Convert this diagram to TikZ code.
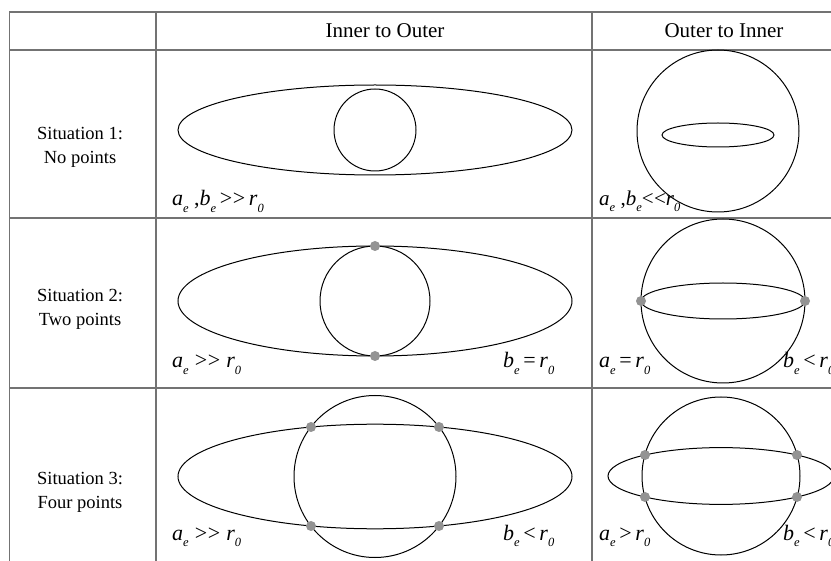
\documentclass[tikz,border=0pt]{standalone}
\usepackage{fontspec}
\setmainfont{Liberation Serif}
\newcommand\ssub[2]{\textit{#1}\raisebox{-0.6ex}{\fontsize{12.5}{12.5}\selectfont\textit{#2}}}
\newcommand\ggt{>\kern0.5pt>}
\newcommand\llt{<\kern0.5pt<}
\tikzset{
  grid/.style={draw=gray!90!black, line width=1.4pt},
  shp/.style={draw=black, line width=1pt},
  pt/.style={circle, fill=gray!85, inner sep=0pt, minimum size=10pt},
  lab/.style={anchor=base west, inner sep=0pt, font=\fontsize{22}{24}\selectfont},
  hdr/.style={inner sep=0pt, font=\fontsize{21}{24}\selectfont},
  sit/.style={inner sep=0pt, font=\fontsize{18.5}{22}\selectfont},
}
\begin{document}
\begin{tikzpicture}[x=1pt,y=-1pt]
\useasboundingbox (0,0) rectangle (831,561);
\begin{scope}
\clip (0,0) rectangle (831,561);
% table
\draw[grid] (9.5,561) -- (9.5,12) -- (831,12);
\draw[grid] (9.5,50) -- (831,50);
\draw[grid] (9.5,218) -- (831,218);
\draw[grid] (9.5,388) -- (831,388);
\draw[grid] (156,12) -- (156,561);
\draw[grid] (592,12) -- (592,561);
% headers
\node[hdr] (h1) at (385,31) {Inner to Outer};
\node[hdr] (h2) at (724,31) {Outer to Inner};
\node[sit] (s1a) at (80,134) {Situation 1:};
\node[sit] (s1b) at (80,159) {No points};
\node[sit] (s2a) at (80,296) {Situation 2:};
\node[sit] (s2b) at (80,321) {Two points};
\node[sit] (s3a) at (80,479) {Situation 3:};
\node[sit] (s3b) at (80,504) {Four points};
% row 1
\draw[shp] (375,130) ellipse [x radius=197, y radius=45];
\draw[shp] (375,130) circle [radius=41];
\draw[shp] (718,131) circle [radius=81];
\draw[shp] (718,135) ellipse [x radius=56, y radius=12];
\node[lab] (l1) at (172,206) {\ssub{a}{e} ,\ssub{b}{e}\,\ggt\,\ssub{r}{0}};
\node[lab, font=\fontsize{21}{24}\selectfont] (l2) at (599,206) {\ssub{a}{e} ,\ssub{b}{e}\llt\ssub{r}{0}};
% row 2
\draw[shp] (375,301) ellipse [x radius=197, y radius=55];
\draw[shp] (375,301) circle [radius=55];
\node[pt] (p21) at (375,246) {};
\node[pt] (p22) at (375,356) {};
\draw[shp] (723,301) circle [radius=82];
\draw[shp] (723,301) ellipse [x radius=82, y radius=18];
\node[pt] (p23) at (641,301) {};
\node[pt] (p24) at (805,301) {};
\node[lab] (l3) at (172,368) {\ssub{a}{e}\;\ggt\;\ssub{r}{0}};
\node[lab] (l4) at (503,368) {\ssub{b}{e}\,=\,\ssub{r}{0}};
\node[lab] (l5) at (599,368) {\ssub{a}{e}\,=\,\ssub{r}{0}};
\node[lab] (l6) at (783,368) {\ssub{b}{e}\,<\,\ssub{r}{0}};
% row 3
\draw[shp] (375,476.5) ellipse [x radius=197, y radius=52.3];
\draw[shp] (375,476.5) circle [radius=81];
\node[pt] (p31) at (311,427) {};
\node[pt] (p32) at (439,427) {};
\node[pt] (p33) at (311,526) {};
\node[pt] (p34) at (439,526) {};
\draw[shp] (721,476) circle [radius=79];
\draw[shp] (721,476) ellipse [x radius=113, y radius=28.4];
\node[pt] (p35) at (645,455) {};
\node[pt] (p36) at (797,455) {};
\node[pt] (p37) at (645,497) {};
\node[pt] (p38) at (797,497) {};
\node[lab] (l7) at (172,540) {\ssub{a}{e}\;\ggt\;\ssub{r}{0}};
\node[lab] (l8) at (503,540) {\ssub{b}{e}\,<\,\ssub{r}{0}};
\node[lab] (l9) at (599,540) {\ssub{a}{e}\,>\,\ssub{r}{0}};
\node[lab] (l10) at (783,540) {\ssub{b}{e}\,<\,\ssub{r}{0}};
\end{scope}
\end{tikzpicture}
\end{document}
